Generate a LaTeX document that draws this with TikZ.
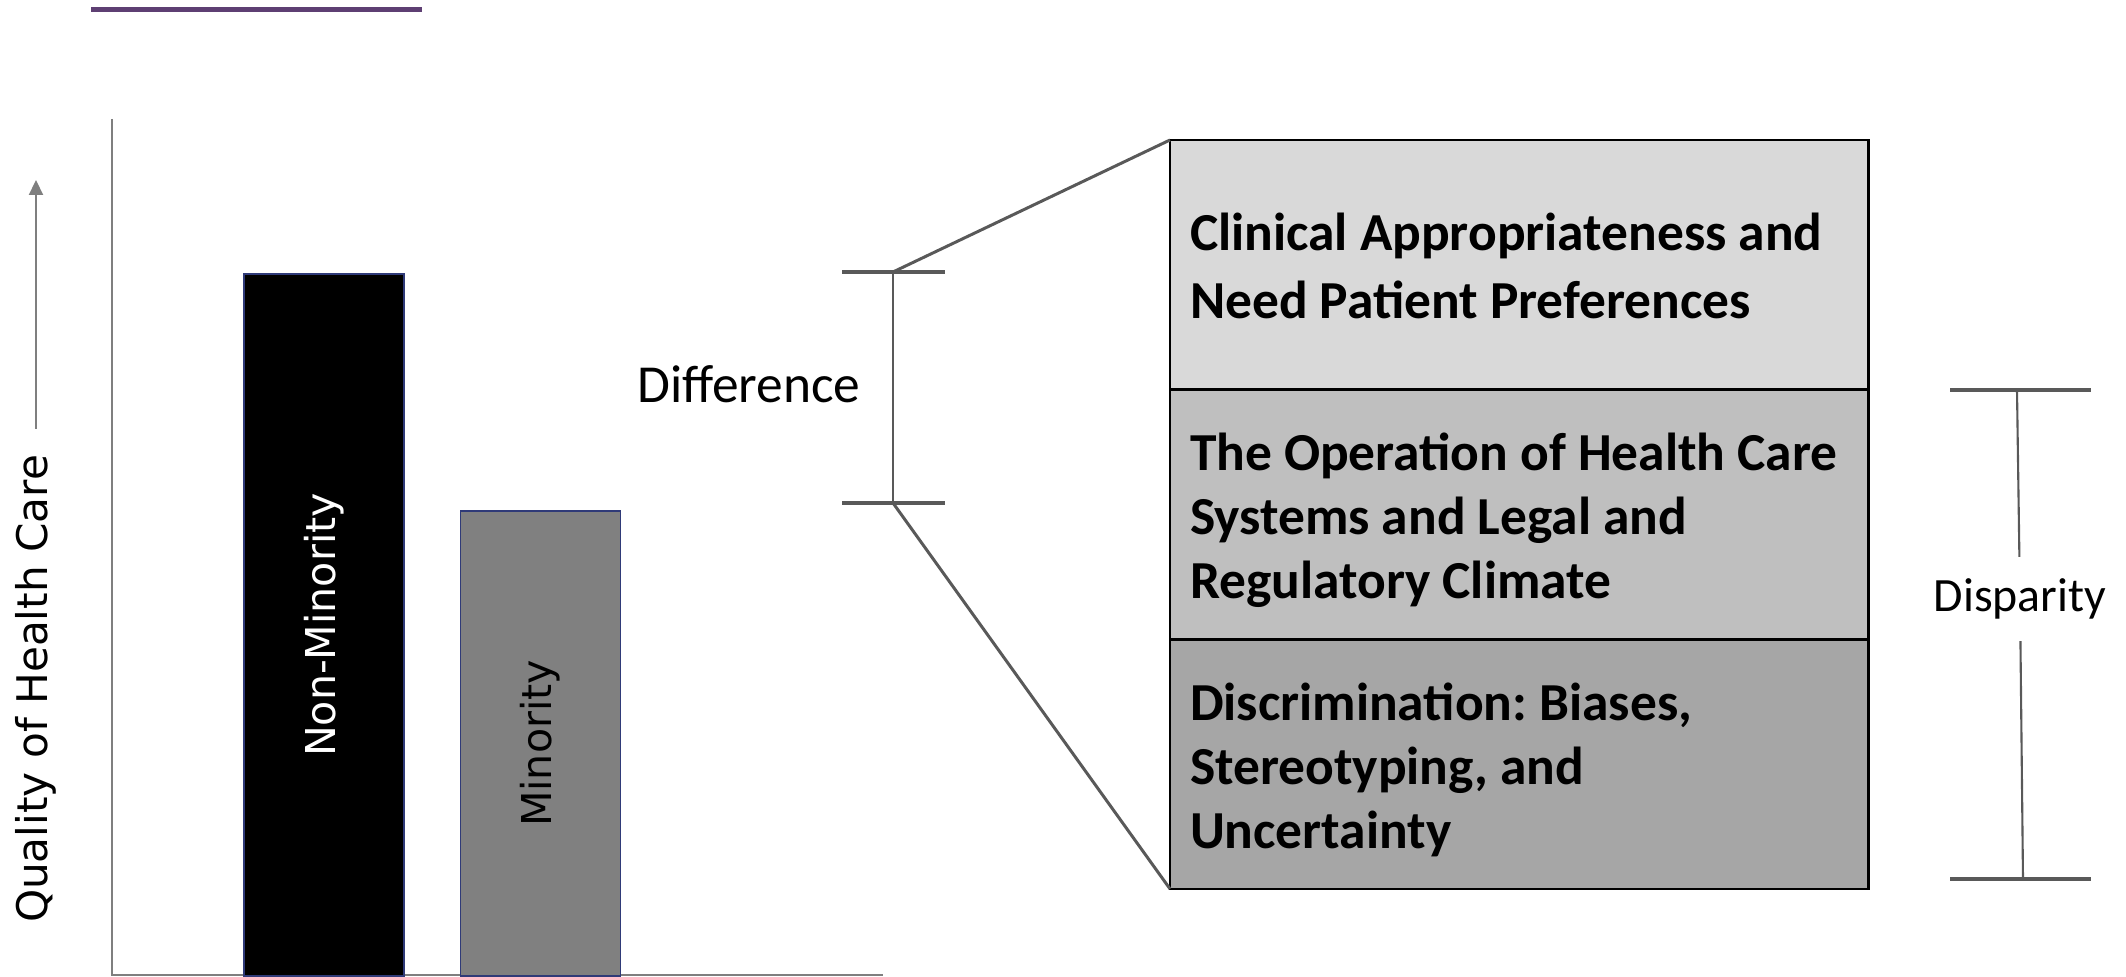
\documentclass[tikz,border=0pt]{standalone}
\usepackage{fontspec}
\setmainfont{Carlito}
\newfontfamily\barfont{DejaVu Sans}
\usetikzlibrary{arrows.meta,positioning}
\definecolor{linegray}{HTML}{595959}
\definecolor{axisgray}{HTML}{7F7F7F}
\definecolor{barblue}{HTML}{2F3A78}
\definecolor{headpurple}{HTML}{5E3F73}
\definecolor{boxlight}{HTML}{D9D9D9}
\definecolor{boxmid}{HTML}{BFBFBF}
\definecolor{boxdark}{HTML}{A6A6A6}
\newcommand{\factorfont}{\bfseries\fontsize{15.2}{18.2}\selectfont\frenchspacing}
\newcommand{\fstrut}{\rule[-3.5pt]{0pt}{18.4pt}}

\begin{document}
\begin{tikzpicture}[x=0.01cm,y=-0.01cm,
    bar/.style={draw=barblue,line width=0.5pt,rotate=90,minimum height=1.6cm,inner sep=0pt,outer sep=0pt,font=\barfont\fontsize{11.7}{14}\selectfont},
    factor/.style={draw=black,line width=0.7pt,minimum width=6.98cm,minimum height=2.495cm,text width=6.58cm,inner xsep=0.2cm,outer sep=0pt,align=flush left,font=\factorfont},
    tick/.style={linegray,line width=1.1pt},
    brace/.style={linegray,line width=0.6pt}]
    \useasboundingbox (0,0) rectangle (2126,977);

    % header rule
    \draw[headpurple,line width=1.15pt] (91,9.5) -- (422,9.5);

    % axes
    \coordinate (origin) at (112,975);
    \draw[axisgray,line width=0.6pt] (112,119) -- (origin) -- (883,975);
    \node[rotate=90,font=\barfont\fontsize{12}{14}\selectfont] (qlabel) at (36,689) {Quality of Health Care};
    \coordinate (qtip) at (36,180);
    \draw[axisgray,line width=0.6pt,shorten <=4pt,-{Triangle[length=0.15cm,width=0.14cm]}] (qlabel) -- (qtip);

    % bars
    \node[bar,fill=black,text=white,minimum width=7.02cm] (nonmin) at (324,625) {Non-Minority};
    \node[bar,fill=gray,minimum width=4.65cm] (minor) at (540.5,743.5) {Minority};

    % difference bracket
    \coordinate (dtop) at (893,272);
    \coordinate (dbot) at (893,503);
    \draw[brace] (dtop) -- (dbot);
    \draw[tick] (842,272) -- (945,272);
    \draw[tick] (842,503) -- (945,503);
    \node[font=\fontsize{15.2}{17}\selectfont,anchor=east] (diff) at (873,384) {Difference};

    % factor boxes
    \node[factor,fill=boxlight,anchor=north west] (clin) at (1170,140) {\fstrut Clinical Appropriateness and\\Need Patient Preferences\fstrut};
    \node[factor,fill=boxmid,below=0pt of clin] (oper) {\fstrut The Operation of Health Care\\Systems and Legal and\\Regulatory Climate\fstrut};
    \node[factor,fill=boxdark,below=0pt of oper] (disc) {\fstrut Discrimination: Biases,\\Stereotyping, and\\Uncertainty\fstrut};

    % zoom lines
    \draw[linegray,line width=0.85pt] (dtop) -- (clin.north west);
    \draw[linegray,line width=0.85pt] (dbot) -- (disc.south west);

    % disparity bracket
    \node[font=\fontsize{13.6}{16}\selectfont,inner ysep=6pt] (disp) at (2020,599) {Disparity};
    \coordinate (ptop) at (2017,390);
    \coordinate (pbot) at (2023,879);
    \draw[brace] (ptop) -- (disp);
    \draw[brace] (disp) -- (pbot);
    \draw[tick] (1950,390) -- (2091,390);
    \draw[tick] (1950,879) -- (2091,879);
\end{tikzpicture}
\end{document}
